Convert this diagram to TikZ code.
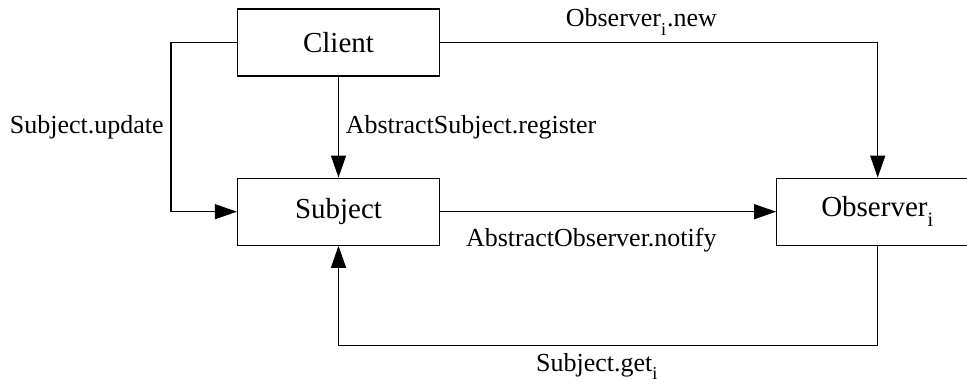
\documentclass[tikz,border=0pt]{standalone}
\usepackage{fontspec}
\setmainfont{Liberation Serif}
\usetikzlibrary{arrows.meta, positioning, calc}
\newcommand{\subi}{\raisebox{-0.4ex}{\textsubscript{i}}}

\begin{document}
\begin{tikzpicture}[
        x=0.5pt, y=-0.5pt,
        node distance=50.5pt and 168pt,
        every node/.style={align=center, font=\fontsize{13}{15}\selectfont},
        box/.style={draw, line width=0.6pt, minimum width=101pt, minimum height=33.5pt, font=\fontsize{14.5}{17}\selectfont},
        arrow/.style={line width=0.6pt, -{Triangle[length=11pt, width=7.5pt]}}
    ]
        \clip (0,0) rectangle (967,384);
        \node[box] (client) at (338.5,42.5) {Client};
        \node[box, below=of client] (subject) {Subject};
        \node[box, right=of subject] (observer) {Observer\subi};
        \coordinate (upd) at (171,42.5);
        \coordinate (ret) at ($(observer.south)+(0,100)$);

        \draw[arrow] (client.west) -- (upd) |- node[pos=.25, left]{Subject.update} (subject.west);
        \draw[arrow] (client) -- node[right]{AbstractSubject.register} (subject);
        \draw[arrow] (client.east) -| node[pos=.23, above]{Observer\subi.new} (observer.north);
        \draw[arrow] (subject) -- node[pos=.45, below, yshift=-4.5pt]{AbstractObserver.notify} (observer);
        \draw[arrow] (observer.south) -- (ret) -| node[pos=.26, below]{Subject.get\subi} (subject.south);
\end{tikzpicture}
\end{document}
